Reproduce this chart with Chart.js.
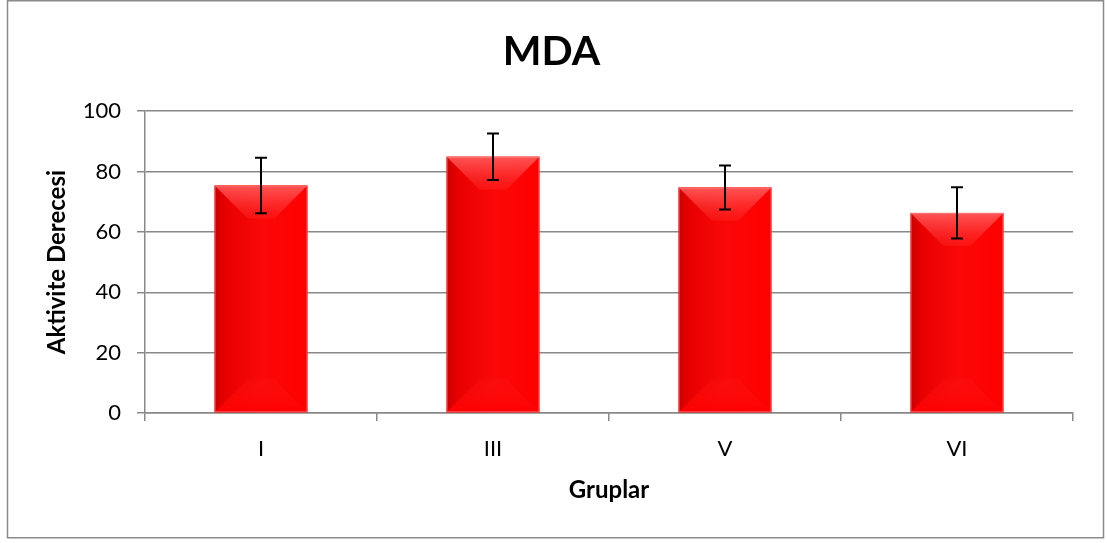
<!DOCTYPE html>
<html>
<head>
<meta charset="utf-8">
<script src="https://cdn.jsdelivr.net/npm/chart.js@4"></script>
<style>
  html, body { margin: 0; padding: 0; background: #fff; }
  #wrap { width: 1107px; height: 543px; position: relative; }
</style>
</head>
<body>
<div id="wrap"><canvas id="myChart"></canvas></div>
<script>
// Chart data
const groups = ['I', 'III', 'V', 'VI'];
const mda_values = [75.4, 84.9, 74.7, 66.3];
const mda_errors = [9.2, 7.7, 7.3, 8.5];
const y_ticks = [0, 20, 40, 60, 80, 100];

const gridGray = '#888888';
const fontName = 'Lato, "Open Sans", sans-serif';

// Outer frame round the whole chart
const framePlugin = {
    id: 'frame',
    beforeDraw(chart) {
        const c = chart.ctx;
        c.save();
        c.fillStyle = '#fff';
        c.fillRect(0, 0, chart.width, chart.height);
        c.strokeStyle = '#8a8a8a';
        c.lineWidth = 1.5;
        c.strokeRect(7.5, 0.75, 1096, 537);
        c.restore();
    }
};

// Bevel look on each bar, drawn over the bar elements
const bevelPlugin = {
    id: 'bevel',
    afterDatasetsDraw(chart) {
        const c = chart.ctx;
        const meta = chart.getDatasetMeta(0);
        meta.data.forEach(bar => {
            const p = bar.getProps(['x', 'y', 'base', 'width'], true);
            const l = p.x - p.width / 2, r = p.x + p.width / 2;
            const t = p.y, b = p.base;
            const d = Math.min(33, (b - t) / 2);
            c.save();
            // side shading
            let g = c.createLinearGradient(l, 0, r, 0);
            g.addColorStop(0, '#cf0000');
            g.addColorStop(0.12, '#e80000');
            g.addColorStop(0.5, '#fa0808');
            g.addColorStop(1, '#ff0000');
            c.fillStyle = g;
            c.fillRect(l, t, r - l, b - t);
            // top bevel
            g = c.createLinearGradient(0, t, 0, t + d);
            g.addColorStop(0, 'rgba(255,90,90,0.95)');
            g.addColorStop(1, 'rgba(255,40,40,0.35)');
            c.fillStyle = g;
            c.beginPath();
            c.moveTo(l, t);
            c.lineTo(r, t);
            c.lineTo(r - d, t + d);
            c.lineTo(l + d, t + d);
            c.closePath();
            c.fill();
            // bottom bevel
            g = c.createLinearGradient(0, b - d, 0, b);
            g.addColorStop(0, 'rgba(255,20,20,0.3)');
            g.addColorStop(1, 'rgba(255,0,0,1)');
            c.fillStyle = g;
            c.beginPath();
            c.moveTo(l + d, b - d);
            c.lineTo(r - d, b - d);
            c.lineTo(r, b);
            c.lineTo(l, b);
            c.closePath();
            c.fill();
            // faint edge
            c.strokeStyle = 'rgba(255,140,140,0.6)';
            c.lineWidth = 1;
            c.strokeRect(l + 0.5, t + 0.5, r - l - 1, b - t - 1);
            c.restore();
        });
    }
};

// Error bars from mda_errors
const errorPlugin = {
    id: 'errorBars',
    afterDatasetsDraw(chart) {
        const c = chart.ctx;
        const yScale = chart.scales.y;
        const meta = chart.getDatasetMeta(0);
        c.save();
        c.strokeStyle = '#000';
        c.lineWidth = 2;
        meta.data.forEach((bar, i) => {
            const x = bar.x;
            const hi = yScale.getPixelForValue(mda_values[i] + mda_errors[i]);
            const lo = yScale.getPixelForValue(mda_values[i] - mda_errors[i]);
            c.beginPath();
            c.moveTo(x, hi); c.lineTo(x, lo);
            c.moveTo(x - 6, hi); c.lineTo(x + 6, hi);
            c.moveTo(x - 6, lo); c.lineTo(x + 6, lo);
            c.stroke();
        });
        c.restore();
    }
};

const ctx = document.getElementById('myChart');

const myChart = new Chart(ctx, {
    type: 'bar',
    data: {
        labels: groups,
        datasets: [{
            label: 'MDA',
            data: mda_values,
            backgroundColor: '#f00000',
            borderWidth: 0,
            barPercentage: 0.4,
            categoryPercentage: 1.0
        }]
    },
    options: {
        responsive: true,
        maintainAspectRatio: false,
        animation: false,
        layout: { padding: { left: 30, right: 34, top: 0, bottom: 0 } },
        plugins: {
            legend: { display: false },
            tooltip: { enabled: false },
            title: {
                display: true,
                text: 'MDA',
                color: '#000',
                font: { family: fontName, size: 41, weight: 'bold', lineHeight: 1.2 },
                padding: { top: 27, bottom: 35 }
            }
        },
        scales: {
            x: {
                grid: {
                    offset: true,
                    drawOnChartArea: false,
                    drawTicks: true,
                    tickLength: 8,
                    color: gridGray,
                    lineWidth: 1.5
                },
                border: { display: true, color: gridGray, width: 1.5 },
                ticks: {
                    color: '#000',
                    padding: 15,
                    font: { family: fontName, size: 22 }
                },
                title: {
                    display: true,
                    text: 'Gruplar',
                    color: '#000',
                    font: { family: fontName, size: 24, weight: 'bold', lineHeight: 1.2 },
                    padding: { top: 4, bottom: 38 }
                },
                afterFit(scale) { scale.height = 130; }
            },
            y: {
                min: 0,
                max: 100,
                afterBuildTicks(scale) { scale.ticks = y_ticks.map(v => ({ value: v })); },
                grid: {
                    color: gridGray,
                    lineWidth: 1.5,
                    tickLength: 8
                },
                border: { display: true, color: gridGray, width: 1.5 },
                ticks: {
                    color: '#000',
                    padding: 16,
                    font: { family: fontName, size: 22 }
                },
                title: {
                    display: true,
                    text: 'Aktivite Derecesi',
                    color: '#000',
                    font: { family: fontName, size: 24, weight: 'bold', lineHeight: 1.2 },
                    padding: { top: 13, bottom: 4 }
                },
                afterFit(scale) { scale.width = 115; }
            }
        }
    },
    plugins: [framePlugin, bevelPlugin, errorPlugin]
});
</script>
</body>
</html>
